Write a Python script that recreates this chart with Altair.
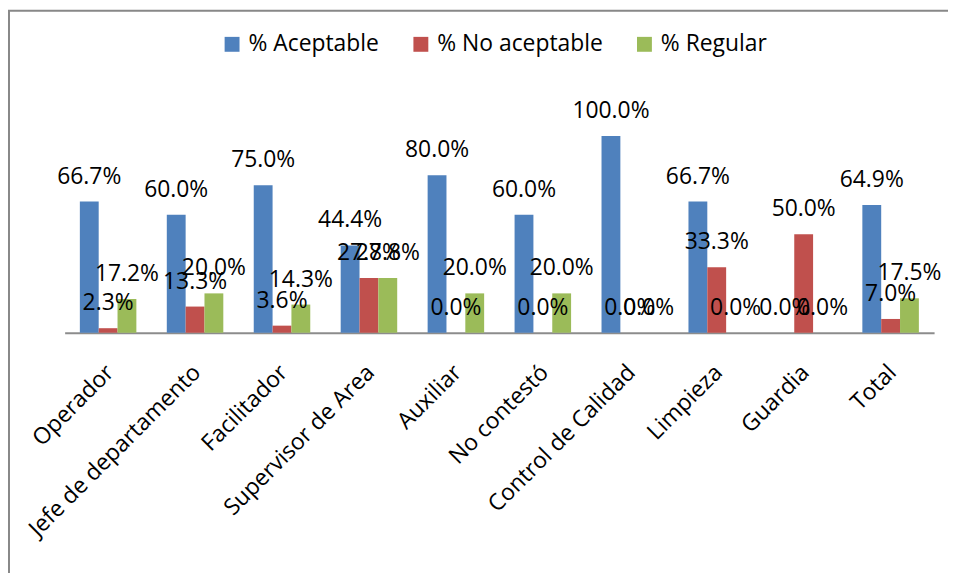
import altair as alt
import pandas as pd

categories = ["Operador", "Jefe de departamento", "Facilitador", "Supervisor de Area",
              "Auxiliar", "No contestó", "Control de Calidad", "Limpieza", "Guardia", "Total"]
series = ["% Aceptable", "% No aceptable", "% Regular"]
aceptable = [66.7, 60.0, 75.0, 44.4, 80.0, 60.0, 100.0, 66.7, 0.0, 64.9]
no_aceptable = [2.3, 13.3, 3.6, 27.8, 0.0, 0.0, 0.0, 33.3, 50.0, 7.0]
regular = [17.2, 20.0, 14.3, 27.8, 20.0, 20.0, 0.0, 0.0, 0.0, 17.5]
colors = ["#4F81BD", "#C0504D", "#9BBB59"]

FONT = "Open Sans"

rows = []
for s, vals in zip(series, [aceptable, no_aceptable, regular]):
    for c, v in zip(categories, vals):
        rows.append({"cat": c, "serie": s, "value": v})
df = pd.DataFrame(rows)

base = alt.Chart(df).transform_calculate(
    label="format(datum.value, '.1f') + '%'"
)

x = alt.X("cat:N", sort=categories,
          scale=alt.Scale(paddingInner=0.35, paddingOuter=0.175),
          axis=alt.Axis(title=None, labelAngle=-45, labelFont=FONT, labelFontSize=23,
                        labelColor="black", domainColor="#8c8c8c", domainWidth=2,
                        ticks=False, labelPadding=36, labelOffset=2,
                        labelAlign="right", labelBaseline="middle", labelLimit=0))
xo = alt.XOffset("serie:N", sort=series)
y = alt.Y("value:Q", scale=alt.Scale(domain=[0, 100]), axis=None)

bars = base.mark_bar().encode(
    x=x, xOffset=xo, y=y,
    color=alt.Color("serie:N", sort=series,
                    scale=alt.Scale(domain=series, range=colors),
                    legend=alt.Legend(title=None, orient="none", direction="horizontal",
                                      legendX=157, legendY=-104, symbolType="square",
                                      symbolSize=225, symbolStrokeWidth=0, symbolOpacity=1,
                                      labelFont=FONT, labelFontSize=23, labelColor="black",
                                      columnPadding=30, labelOffset=5, padding=0,
                                      labelLimit=0)),
)

labels = base.mark_text(font=FONT, fontSize=23, baseline="alphabetic", dy=-18,
                        color="black").encode(
    x=x, xOffset=xo, y=y, text="label:N"
)

frame = alt.Chart(pd.DataFrame({"a": [0]})).mark_rect(
    fillOpacity=0, stroke="#888888", strokeWidth=2
).encode(
    x=alt.value(-56), x2=alt.value(3000), y=alt.value(-126), y2=alt.value(3000)
)

chart = alt.layer(bars, labels, frame).properties(
    width=875, height=198,
    padding={"left": 57, "top": 127, "right": 14, "bottom": 240},
    autosize=alt.AutoSizeParams(type="none"),
).configure_view(stroke=None)

chart.save("out.html", embed_options={"renderer": "svg", "actions": False})
